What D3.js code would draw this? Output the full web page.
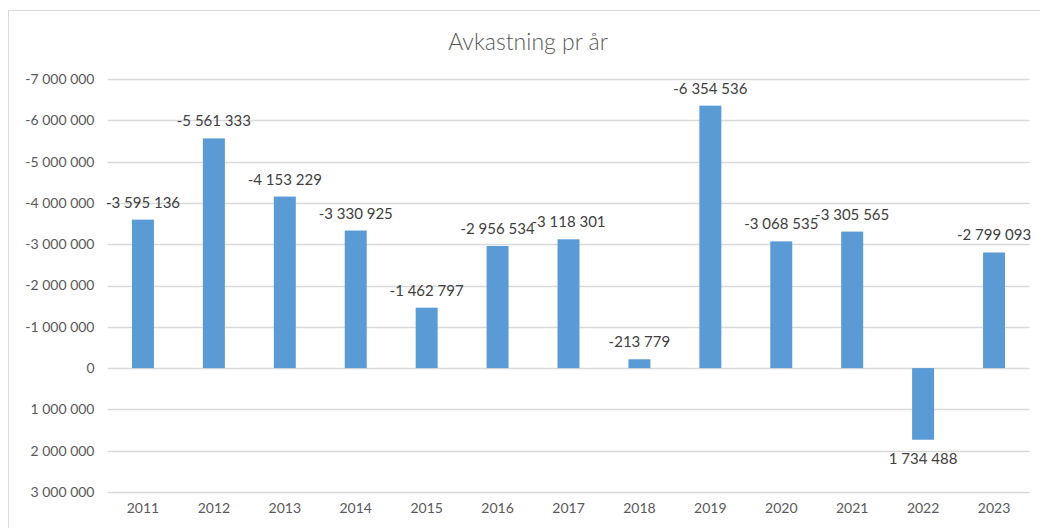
<!DOCTYPE html>
<html>
<head>
<meta charset="utf-8">
<script src="https://cdn.jsdelivr.net/npm/d3@7"></script>
<style>
	body { margin: 0; background: #fff; }
	svg { display: block; font-family: Lato, 'Open Sans', sans-serif; }
</style>
</head>
<body>
<div data-chart></div>
<script>
const years = ['2011', '2012', '2013', '2014', '2015', '2016', '2017', '2018', '2019', '2020', '2021', '2022', '2023']
const returns = [-3595136, -5561333, -4153229, -3330925, -1462797, -2956534, -3118301, -213779, -6354536, -3068535, -3305565, 1734488, -2799093]
const yTicks = [-7000000, -6000000, -5000000, -4000000, -3000000, -2000000, -1000000, 0, 1000000, 2000000, 3000000]
const title = 'Avkastning pr år'

const dimensions = {
	width: 1040,
	height: 528,
	left: 107.5,
	right: 1029.5,
	top: 79,
	bottom: 492
}

const data = years.map((year, i) => ({ year, value: returns[i] }))

const xAccessor = (d) => d.year
const yAccessor = (d) => d.value

// Excel style: space as thousands separator, plain hyphen minus
const formatNumber = (n) => {
	const s = d3.format(',')(Math.abs(n)).replace(/,/g, ' ')
	return n < 0 ? '-' + s : s
}

const svg = d3.select('[data-chart]')
	.append('svg')
	.attr('width', dimensions.width)
	.attr('height', dimensions.height)

/* Frame */
svg.append('rect')
	.attr('x', 8.5)
	.attr('y', 10.5)
	.attr('width', 1040)
	.attr('height', 530)
	.attr('fill', 'none')
	.attr('stroke', '#d9d9d9')

/* Title */
svg.append('text')
	.attr('x', 528)
	.attr('y', 50)
	.attr('text-anchor', 'middle')
	.attr('font-size', 23)
	.attr('font-weight', 300)
	.attr('fill', '#595959')
	.text(title)

const xScale = d3.scaleBand()
	.domain(years)
	.range([dimensions.left, dimensions.right])
	.paddingInner(0.69)
	.paddingOuter(0.345)

// inverted axis: negative values go up
const yScale = d3.scaleLinear()
	.domain([-7000000, 3000000])
	.range([dimensions.top, dimensions.bottom])

/* Gridlines */
svg.append('g')
	.selectAll('line')
	.data(yTicks)
	.join('line')
	.attr('x1', dimensions.left)
	.attr('x2', dimensions.right)
	.attr('y1', (d) => Math.round(yScale(d)) + 0.5)
	.attr('y2', (d) => Math.round(yScale(d)) + 0.5)
	.attr('stroke', '#d9d9d9')
	.attr('stroke-width', 1.3)

/* Y axis labels */
const yAxis = d3.axisLeft(yScale)
	.tickValues(yTicks)
	.tickFormat(formatNumber)
	.tickSize(0)
	.tickPadding(13)

svg.append('g')
	.attr('transform', `translate(${dimensions.left},0)`)
	.call(yAxis)
	.call((g) => g.select('.domain').remove())
	.call((g) => g.selectAll('text')
		.attr('font-size', 14)
		.attr('font-family', 'Lato, sans-serif')
		.attr('fill', '#595959'))

/* X axis labels */
const xAxis = d3.axisBottom(xScale)
	.tickSize(0)
	.tickPadding(11)

svg.append('g')
	.attr('transform', `translate(0,${dimensions.bottom})`)
	.call(xAxis)
	.call((g) => g.select('.domain').remove())
	.call((g) => g.selectAll('text')
		.attr('font-size', 14)
		.attr('font-family', 'Lato, sans-serif')
		.attr('fill', '#595959'))

/* Bars */
svg.append('g')
	.selectAll('rect')
	.data(data)
	.join('rect')
	.attr('x', (d) => xScale(xAccessor(d)))
	.attr('width', xScale.bandwidth())
	.attr('y', (d) => Math.min(yScale(0), yScale(yAccessor(d))))
	.attr('height', (d) => Math.abs(yScale(yAccessor(d)) - yScale(0)))
	.attr('fill', '#5b9bd5')

/* Data labels */
svg.append('g')
	.selectAll('text')
	.data(data)
	.join('text')
	.attr('x', (d) => xScale(xAccessor(d)) + xScale.bandwidth() / 2)
	.attr('y', (d) => yAccessor(d) < 0
		? yScale(yAccessor(d)) - 12
		: yScale(yAccessor(d)) + 24)
	.attr('text-anchor', 'middle')
	.attr('font-size', 15)
	.attr('fill', '#404040')
	.text((d) => formatNumber(yAccessor(d)))
</script>
</body>
</html>
